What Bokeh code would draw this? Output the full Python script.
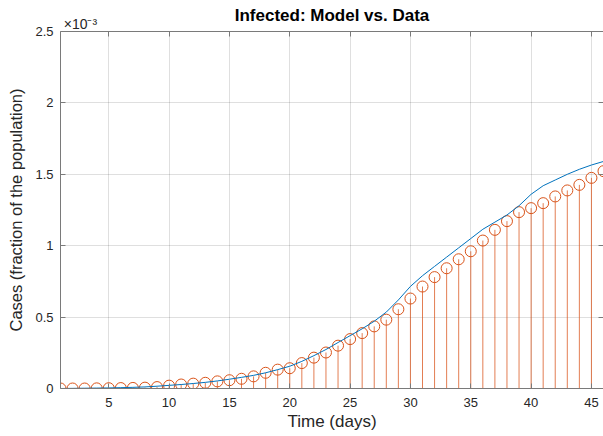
from bokeh.plotting import figure
from bokeh.models import Range1d, FixedTicker, LinearAxis
from bokeh.embed import file_html
from bokeh.resources import INLINE

# Values in units of 1e-3 (fraction of the population)
days = list(range(1, 47))
data_e3 = [0.000, 0.000, 0.000, 0.001, 0.002, 0.003, 0.004, 0.006, 0.010, 0.020,
           0.028, 0.034, 0.040, 0.050, 0.058, 0.068, 0.085, 0.110, 0.132, 0.142,
           0.178, 0.216, 0.252, 0.300, 0.346, 0.388, 0.435, 0.482, 0.555, 0.630,
           0.714, 0.780, 0.842, 0.905, 0.961, 1.036, 1.111, 1.172, 1.235, 1.263,
           1.298, 1.345, 1.387, 1.426, 1.475, 1.522]
model_e3 = [0.000, 0.001, 0.002, 0.003, 0.004, 0.006, 0.008, 0.011, 0.016, 0.022,
            0.028, 0.035, 0.043, 0.053, 0.065, 0.078, 0.092, 0.110, 0.132, 0.156,
            0.190, 0.230, 0.273, 0.322, 0.370, 0.418, 0.471, 0.535, 0.620, 0.715,
            0.790, 0.855, 0.920, 0.985, 1.050, 1.115, 1.165, 1.215, 1.280, 1.360,
            1.420, 1.460, 1.500, 1.535, 1.565, 1.590]
x_ticks = [5, 10, 15, 20, 25, 30, 35, 40, 45]
y_ticks = [0, 0.5, 1, 1.5, 2, 2.5]
y_tick_labels = ["0", "0.5", "1", "1.5", "2", "2.5"]
exponent_text = "×10⁻³"

FONT = "Liberation Sans"
AX = "#262626"
AXLINE = "#7a7a7a"
ORANGE = "#D95319"
BLUE = "#0072BD"

p = figure(width=603, height=436, output_backend="svg", toolbar_location=None,
           x_range=Range1d(1, 46), y_range=Range1d(0, 2.5),
           min_border_left=60, min_border_right=0, min_border_top=31, min_border_bottom=48,
           title="Infected: Model vs. Data")
p.outline_line_color = None
p.background_fill_color = "white"
p.border_fill_color = "white"

p.title.text_font = FONT
p.title.text_font_size = "17px"
p.title.text_font_style = "bold"
p.title.text_color = "black"
p.title.align = "center"

for ax in (p.xaxis[0], p.yaxis[0]):
    ax.axis_line_color = AXLINE
    ax.major_tick_line_color = AXLINE
    ax.major_tick_in = 5
    ax.major_tick_out = 0
    ax.minor_tick_line_color = None
    ax.major_label_text_font = FONT
    ax.major_label_text_font_size = "13px"
    ax.major_label_text_color = AX
    ax.axis_label_text_font = FONT
    ax.axis_label_text_font_style = "normal"
    ax.axis_label_text_color = AX

p.xaxis.ticker = FixedTicker(ticks=x_ticks)
p.yaxis.ticker = FixedTicker(ticks=y_ticks)
p.yaxis.major_label_overrides = {t: l for t, l in zip(y_ticks, y_tick_labels)}
p.xaxis.axis_label = "Time (days)"
p.yaxis.axis_label = "Cases (fraction of the population)"
p.xaxis.axis_label_text_font_size = "17px"
p.yaxis.axis_label_text_font_size = "16.5px"
p.xaxis.major_label_standoff = 9
p.yaxis.major_label_standoff = 7
p.xaxis.axis_label_standoff = 2
p.yaxis.axis_label_standoff = 7

# box ticks on top (no labels)
top = LinearAxis(ticker=FixedTicker(ticks=x_ticks), major_label_text_font_size="0px",
                 major_label_standoff=0, major_tick_in=5, major_tick_out=0,
                 minor_tick_line_color=None, axis_line_color=AXLINE,
                 major_tick_line_color=AXLINE)
top.major_label_overrides = {t: "" for t in x_ticks}
p.add_layout(top, "above")

# exponent multiplier shown above the top-left corner of the axes
exp_x = 2.65
exp_axis = LinearAxis(ticker=FixedTicker(ticks=[exp_x]), major_label_standoff=0,
                      major_tick_in=0, major_tick_out=0, axis_line_color=None,
                      major_tick_line_color=None, minor_tick_line_color=None,
                      major_label_text_font=FONT, major_label_text_font_size="14px",
                      major_label_text_color=AX)
exp_axis.major_label_overrides = {exp_x: exponent_text}
p.add_layout(exp_axis, "above")
if "padding" in p.title.properties():
    p.title.padding = 2
    p.title.standoff = -29
else:
    p.title.standoff = -27

# box ticks on the right (no labels)
right = LinearAxis(ticker=FixedTicker(ticks=y_ticks), major_label_text_font_size="0px",
                   major_label_standoff=0, major_tick_in=5, major_tick_out=0,
                   minor_tick_line_color=None, axis_line_color=None,
                   major_tick_line_color=AXLINE)
right.major_label_overrides = {t: "" for t in y_ticks}
p.add_layout(right, "right")

p.grid.grid_line_color = AX
p.grid.grid_line_alpha = 0.15
p.xgrid.ticker = FixedTicker(ticks=x_ticks)
p.ygrid.ticker = FixedTicker(ticks=y_ticks)

# stems
p.segment(x0=days, y0=[0] * len(days), x1=days, y1=data_e3, line_color=ORANGE,
          line_width=1, line_alpha=0.75)
p.scatter(x=days, y=data_e3, marker="circle", size=11, fill_color=None,
          line_color=ORANGE, line_width=1)
# model line
p.line(x=days, y=model_e3, line_color=BLUE, line_width=1.0)

open("out.html", "w").write(file_html(p, INLINE))
